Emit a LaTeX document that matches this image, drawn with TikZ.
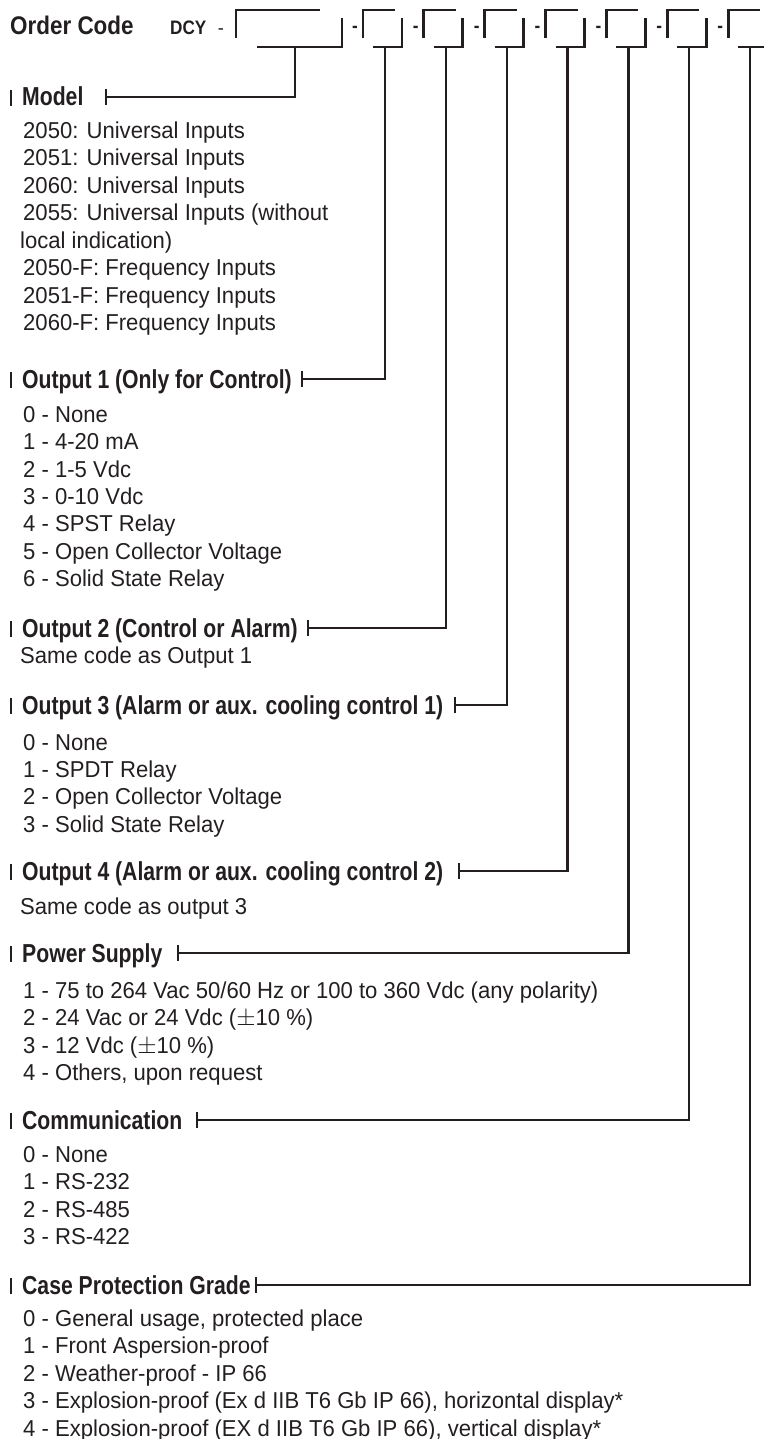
\documentclass[tikz,border=0pt]{standalone}
\usepackage{fontspec}
\setmainfont{Liberation Sans}
\newfontfamily\bodyff{Liberation Sans}[FakeStretch=0.96]
\newfontfamily\headff{Liberation Sans}[FakeStretch=0.815]
\newfontfamily\ocff{Liberation Sans}[FakeStretch=0.88]
\definecolor{ink}{HTML}{231F20}
\newcommand\bodyfont{\bodyff\fontsize{23}{27}\selectfont}
\newcommand\headfont{\headff\bfseries\fontsize{26}{30}\selectfont}
\newcommand\ocfont{\ocff\bfseries\fontsize{25.5}{30}\selectfont}
\newcommand\dcyfont{\ocff\bfseries\fontsize{19.5}{22}\selectfont}
\begin{document}
\begin{tikzpicture}[x=1pt,y=-1pt,
  body/.style={anchor=base west, inner sep=0pt, text=ink, font=\bodyfont},
  head/.style={anchor=base west, inner sep=0pt, text=ink, font=\headfont},
  wire/.style={draw=ink, line width=2.4pt, line join=miter},
  boxline/.style={draw=ink, line width=2.8pt, line join=miter},
  lefttick/.style={draw=ink, line width=2.2pt},
  dashtxt/.style={anchor=center, inner sep=0pt, text=ink, font=\dcyfont}]
\useasboundingbox (0,0) rectangle (763,1439);

% ---- order code line ----
\node[anchor=base west, inner sep=0pt, text=ink, font=\ocfont] (oc) at (10,35) {Order Code};
\node[anchor=base west, inner sep=0pt, text=ink, font=\dcyfont] (dcy) at (170,35) {DCY};
\node[anchor=base, inner sep=0pt, text=ink, font=\bodyff\fontsize{19}{22}\selectfont] (d0) at (221,35) {-};

% big box
\draw[boxline] (236,38) -- (236,10) -- (320,10);
\draw[boxline] (257,47) -- (342,47) -- (342,18);
\coordinate (s0) at (295,47);

% small boxes
\foreach \i/\n in {0/1,1/2,2/3,3/4,4/5,5/6,6/7}{
  \pgfmathsetmacro\L{363+60.85*\i}
  \draw[boxline] (\L,38) -- (\L,10) -- (\L+32,10);
  \draw[boxline] (\L+10,47) -- (\L+39,47) -- (\L+39,18);
  \coordinate (s\n) at (\L+22,47);
  \node[dashtxt] (d\n) at (\L-8,29.5) {\textbf{-}};
}

% ---- headings ----
\node[head] (hM) at (22,106) {Model};
\node[head] (h1) at (22,388) {Output 1 (Only for Control)};
\node[head] (h2) at (22,637) {Output 2 (Control or Alarm)};
\node[head] (h3) at (22,714) {Output 3 (Alarm or aux. cooling control 1)};
\node[head] (h4) at (22,880) {Output 4 (Alarm or aux. cooling control 2)};
\node[head] (h5) at (22,962) {Power Supply};
\node[head] (h6) at (22,1129) {Communication};
\node[head] (h7) at (22,1294) {Case Protection Grade};

% tick coordinates
\coordinate (t0) at (106,97);
\coordinate (t1) at (302,379);
\coordinate (t2) at (308,628);
\coordinate (t3) at (455,705);
\coordinate (t4) at (459,871);
\coordinate (t5) at (178,953);
\coordinate (t6) at (197,1120);
\coordinate (t7) at (256,1285);

\foreach \k/\y in {0/97,1/379,2/628,3/705,4/871,5/953,6/1120,7/1285}{
  \draw[wire] (s\k) |- (t\k);
  \draw[wire] (t\k) ++(0,-8) -- ++(0,16);
  \draw[lefttick] (11,\y-7) -- (11,\y+9);
}

% ---- body text ----
\node[body] (m1) at (23,139) {2050: Universal Inputs};
\node[body] (m2) at (23,166) {2051: Universal Inputs};
\node[body] (m3) at (23,194) {2060: Universal Inputs};
\node[body] (m4) at (23,221) {2055: Universal Inputs (without};
\node[body] (m5) at (20,248) {local indication)};
\node[body] (m6) at (23,276) {2050-F: Frequency Inputs};
\node[body] (m7) at (23,303) {2051-F: Frequency Inputs};
\node[body] (m8) at (23,330) {2060-F: Frequency Inputs};

\node[body] (a0) at (23,422) {0 - None};
\node[body] (a1) at (23,449) {1 - 4-20 mA};
\node[body] (a2) at (23,477) {2 - 1-5 Vdc};
\node[body] (a3) at (23,504) {3 - 0-10 Vdc};
\node[body] (a4) at (23,531) {4 - SPST Relay};
\node[body] (a5) at (23,559) {5 - Open Collector Voltage};
\node[body] (a6) at (23,586) {6 - Solid State Relay};

\node[body] (b0) at (20,663) {Same code as Output 1};

\node[body] (c0) at (23,750) {0 - None};
\node[body] (c1) at (23,777) {1 - SPDT Relay};
\node[body] (c2) at (23,804) {2 - Open Collector Voltage};
\node[body] (c3) at (23,832) {3 - Solid State Relay};

\node[body] (e0) at (20,914) {Same code as output 3};

\node[body] (p1) at (23,998) {1 - 75 to 264 Vac 50/60 Hz or 100 to 360 Vdc (any polarity)};
\node[body] (p2) at (23,1025) {2 - 24 Vac or 24 Vdc ($\pm$10 \%)};
\node[body] (p3) at (23,1053) {3 - 12 Vdc ($\pm$10 \%)};
\node[body] (p4) at (23,1080) {4 - Others, upon request};

\node[body] (k0) at (23,1162) {0 - None};
\node[body] (k1) at (23,1189) {1 - RS-232};
\node[body] (k2) at (23,1217) {2 - RS-485};
\node[body] (k3) at (23,1244) {3 - RS-422};

\node[body] (g0) at (23,1326) {0 - General usage, protected place};
\node[body] (g1) at (23,1353) {1 - Front Aspersion-proof};
\node[body] (g2) at (23,1381) {2 - Weather-proof - IP 66};
\node[body] (g3) at (23,1408) {3 - Explosion-proof (Ex d IIB T6 Gb IP 66), horizontal display*};
\node[body] (g4) at (23,1436) {4 - Explosion-proof (EX d IIB T6 Gb IP 66), vertical display*};
\end{tikzpicture}
\end{document}
